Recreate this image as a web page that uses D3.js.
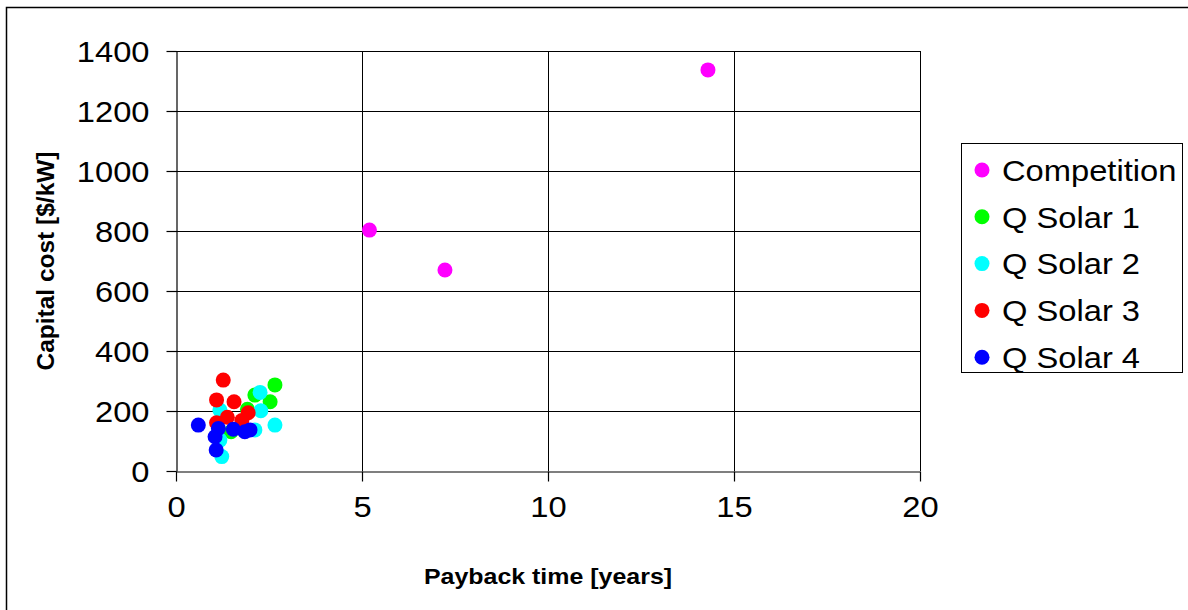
<!DOCTYPE html>
<html>
<head>
<meta charset="utf-8">
<script src="https://cdn.jsdelivr.net/npm/d3@7"></script>
<style>
  html, body { margin: 0; padding: 0; background: #fff; }
  svg { display: block; font-family: "Liberation Sans", Arial, sans-serif; }
</style>
</head>
<body>
<svg id="chart" width="1188" height="610"></svg>
<script>
// Series: payback time [years] vs capital cost [$/kW]
const seriesNames = ["Competition", "Q Solar 1", "Q Solar 2", "Q Solar 3", "Q Solar 4"];
const seriesColors = ["#ff00ff", "#00ff00", "#00ffff", "#ff0000", "#0000ff"];

const competitionX = [5.2, 7.23, 14.3];
const competitionY = [803, 670, 1337];

const qSolar1X = [2.66, 2.12, 2.53, 1.92, 1.48];
const qSolar1Y = [287, 253, 231, 206, 131];

const qSolar2X = [2.26, 2.28, 2.66, 1.18, 2.12, 1.18, 1.23];
const qSolar2Y = [262, 201, 153, 203, 137, 103, 48];

const qSolar3X = [1.27, 1.09, 1.56, 1.94, 1.38, 1.09, 1.77];
const qSolar3Y = [303, 237, 231, 194, 179, 161, 168];

const qSolar4X = [0.60, 1.14, 1.05, 1.08, 1.54, 1.85, 1.99];
const qSolar4Y = [153, 142, 114, 70, 139, 131, 137];

const xTicks = [0, 5, 10, 15, 20];
const yTicks = [0, 200, 400, 600, 800, 1000, 1200, 1400];

const seriesX = [competitionX, qSolar1X, qSolar2X, qSolar3X, qSolar4X];
const seriesY = [competitionY, qSolar1Y, qSolar2Y, qSolar3Y, qSolar4Y];

// text in this chart is drawn slightly wide
const stretch = 1.09;

const svg = d3.select("#chart");

// outer chart frame
svg.append("rect")
  .attr("x", 6.5).attr("y", 7.5)
  .attr("width", 1200).attr("height", 620)
  .attr("fill", "#fff").attr("stroke", "#000").attr("stroke-width", 1.5);

const plot = { left: 176, right: 920, top: 51, bottom: 471 };

const x = d3.scaleLinear().domain([0, 20]).range([plot.left, plot.right]);
const y = d3.scaleLinear().domain([0, 1400]).range([plot.bottom, plot.top]);

// gridlines
const grid = svg.append("g").attr("stroke", "#000").attr("stroke-width", 1);
grid.selectAll("line.h").data(yTicks.filter(d => d > 0)).join("line")
  .attr("x1", plot.left).attr("x2", plot.right)
  .attr("y1", d => Math.round(y(d)) + 0.5).attr("y2", d => Math.round(y(d)) + 0.5);
grid.selectAll("line.v").data(xTicks.filter(d => d > 0)).join("line")
  .attr("y1", plot.top).attr("y2", plot.bottom)
  .attr("x1", d => Math.round(x(d)) + 0.5).attr("x2", d => Math.round(x(d)) + 0.5);

// axes
const tickLen = 10;
const yPad = 17;
const xAxis = d3.axisBottom(x).tickValues(xTicks).tickFormat(d3.format("d"))
  .tickSize(tickLen).tickPadding(14).tickSizeOuter(0);
const yAxis = d3.axisLeft(y).tickValues(yTicks).tickFormat(d3.format("d"))
  .tickSize(tickLen).tickPadding(yPad).tickSizeOuter(0);

const gx = svg.append("g").attr("transform", `translate(0,${plot.bottom + 0.5})`).call(xAxis);
const gy = svg.append("g").attr("transform", `translate(${plot.left + 0.5},0)`).call(yAxis);
[gx, gy].forEach(g => {
  g.selectAll("path, line").attr("stroke", "#000").attr("stroke-width", 1.2);
  g.selectAll("text").attr("fill", "#000").attr("font-size", 30)
    .attr("font-family", "Liberation Sans, Arial, sans-serif");
});
// widen tick labels about their anchor point
gx.selectAll("text").attr("transform", `scale(${stretch},1)`);
gy.selectAll("text").attr("dy", "0.36em")
  .attr("x", -(tickLen + yPad) / stretch).attr("transform", `scale(${stretch},1)`);

// axis titles
svg.append("g").attr("transform", `translate(${(plot.left + plot.right) / 2},584) scale(1.085,1)`)
  .append("text")
  .attr("text-anchor", "middle").attr("font-size", 23).attr("font-weight", "bold")
  .text("Payback time [years]");
svg.append("g").attr("transform", `translate(54,261) rotate(-90) scale(1.065,1)`)
  .append("text")
  .attr("text-anchor", "middle").attr("font-size", 23).attr("font-weight", "bold")
  .text("Capital cost [$/kW]");

// points
seriesNames.forEach((name, i) => {
  const pts = seriesX[i].map((v, j) => ({ x: v, y: seriesY[i][j] }));
  svg.append("g").selectAll("circle").data(pts).join("circle")
    .attr("cx", d => x(d.x)).attr("cy", d => y(d.y)).attr("r", 7.5)
    .attr("fill", seriesColors[i]);
});

// legend
const legend = svg.append("g");
legend.append("rect")
  .attr("x", 961.5).attr("y", 143.5).attr("width", 221).attr("height", 229)
  .attr("fill", "#fff").attr("stroke", "#000").attr("stroke-width", 1);
const rows = legend.selectAll("g.row").data(seriesNames).join("g")
  .attr("transform", (d, i) => `translate(0,${170 + i * 46.8})`);
rows.append("circle").attr("cx", 982).attr("cy", 0).attr("r", 7.5)
  .attr("fill", (d, i) => seriesColors[i]);
rows.append("g").attr("transform", `translate(1002,0) scale(${stretch},1)`)
  .append("text").attr("dy", "0.36em")
  .attr("font-size", 30).text(d => d);
</script>
</body>
</html>
